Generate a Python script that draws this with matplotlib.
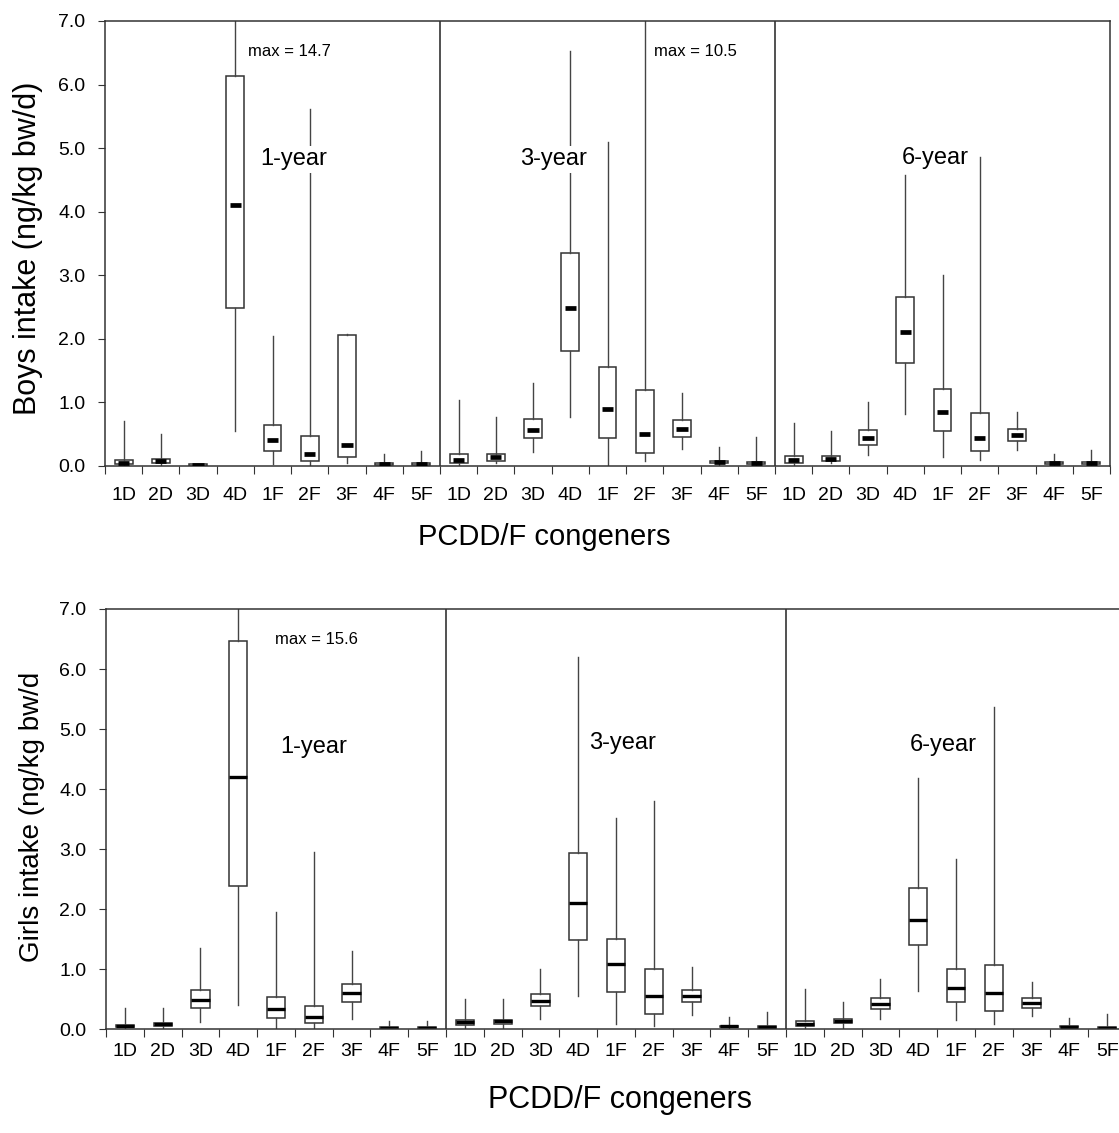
import matplotlib
matplotlib.use("Agg")
import matplotlib.pyplot as plt
from matplotlib.ticker import FormatStrFormatter
import numpy as np

plt.rcParams['font.family'] = ['Liberation Sans', 'DejaVu Sans']

congeners = ['1D', '2D', '3D', '4D', '1F', '2F', '3F', '4F', '5F']
ages = ['1-year', '3-year', '6-year']

# Boys: min, quartiles, median, max for 1-, 3- and 6-year olds (9 congeners each)
boys_min = [0.00, 0.00, 0.00, 0.54, 0.02, 0.00, 0.05, 0.00, 0.00,
            0.01, 0.04, 0.21, 0.77, 0.00, 0.07, 0.26, 0.00, 0.00,
            0.00, 0.05, 0.17, 0.81, 0.13, 0.09, 0.24, 0.00, 0.00]
boys_q1 = [0.02, 0.04, 0.00, 2.48, 0.23, 0.08, 0.14, 0.01, 0.01,
           0.04, 0.08, 0.43, 1.81, 0.43, 0.20, 0.45, 0.04, 0.02,
           0.04, 0.08, 0.32, 1.61, 0.54, 0.23, 0.39, 0.03, 0.02]
boys_med = [0.05, 0.07, 0.01, 4.11, 0.40, 0.19, 0.33, 0.03, 0.03,
            0.09, 0.13, 0.56, 2.48, 0.89, 0.50, 0.58, 0.06, 0.04,
            0.09, 0.11, 0.44, 2.10, 0.84, 0.44, 0.48, 0.05, 0.04]
boys_q3 = [0.09, 0.10, 0.02, 6.13, 0.64, 0.47, 2.06, 0.04, 0.04,
           0.18, 0.19, 0.74, 3.35, 1.55, 1.19, 0.72, 0.08, 0.06,
           0.15, 0.16, 0.56, 2.65, 1.20, 0.83, 0.58, 0.06, 0.06]
boys_max = [0.70, 0.50, 0.03, 14.7, 2.04, 5.62, 2.07, 0.18, 0.23,
            1.03, 0.76, 1.30, 6.53, 5.10, 10.5, 1.14, 0.30, 0.45,
            0.67, 0.54, 1.01, 4.58, 3.00, 4.86, 0.85, 0.18, 0.25]

# Girls
girls_min = [0.00, 0.00, 0.12, 0.40, 0.00, 0.00, 0.17, 0.00, 0.00,
             0.01, 0.02, 0.17, 0.55, 0.08, 0.06, 0.24, 0.00, 0.00,
             0.00, 0.02, 0.17, 0.63, 0.16, 0.08, 0.22, 0.00, 0.00]
girls_q1 = [0.03, 0.06, 0.35, 2.38, 0.19, 0.10, 0.46, 0.01, 0.01,
            0.07, 0.09, 0.38, 1.49, 0.62, 0.25, 0.46, 0.03, 0.02,
            0.05, 0.10, 0.34, 1.40, 0.46, 0.30, 0.36, 0.03, 0.01]
girls_med = [0.05, 0.08, 0.49, 4.20, 0.33, 0.21, 0.60, 0.02, 0.02,
             0.12, 0.13, 0.47, 2.10, 1.08, 0.55, 0.55, 0.05, 0.04,
             0.08, 0.13, 0.42, 1.82, 0.68, 0.60, 0.44, 0.04, 0.02]
girls_q3 = [0.07, 0.10, 0.65, 6.46, 0.54, 0.38, 0.75, 0.03, 0.03,
            0.16, 0.16, 0.59, 2.93, 1.51, 1.00, 0.65, 0.06, 0.05,
            0.13, 0.17, 0.52, 2.35, 1.00, 1.07, 0.52, 0.05, 0.03]
girls_max = [0.36, 0.36, 1.35, 15.6, 1.96, 2.95, 1.30, 0.14, 0.14,
             0.50, 0.50, 1.01, 6.20, 3.52, 3.81, 1.03, 0.20, 0.28,
             0.67, 0.45, 0.84, 4.18, 2.84, 5.37, 0.79, 0.19, 0.26]

EDGE = '#333333'


def draw_panel(ax, lo, q1, med, q3, hi, short_median):
    pos = np.arange(len(med)) + 0.5
    stats = [dict(whislo=a, q1=b, med=c, q3=d, whishi=e, fliers=[])
             for a, b, c, d, e in zip(lo, q1, med, q3, hi)]
    ax.bxp(stats, positions=pos, widths=0.48, showcaps=False, patch_artist=True,
           boxprops=dict(facecolor='white', edgecolor=EDGE, linewidth=1.1),
           whiskerprops=dict(color='#444444', linewidth=1.0),
           medianprops=dict(color='black', linewidth=0 if short_median else 2.4))
    if short_median:
        # short, heavy median bars inside the boxes
        ax.hlines(med, pos - 0.15, pos + 0.15, colors='black', linewidth=3.4, zorder=4)

    for x in (9, 18):
        ax.axvline(x, color=EDGE, linewidth=1.2)

    ax.set_xlim(0, 27)
    ax.set_ylim(0, 7)
    ax.set_xticks(np.arange(28))
    ax.set_xticklabels([])
    ax.set_xticks(pos, minor=True)
    ax.set_xticklabels(congeners * 3, minor=True)
    ax.tick_params(axis='x', which='major', direction='out', length=6, color=EDGE)
    ax.tick_params(axis='x', which='minor', length=0, labelsize=14)
    ax.set_yticks(np.arange(0, 7.5, 1.0))
    ax.yaxis.set_major_formatter(FormatStrFormatter('%.1f'))
    ax.tick_params(axis='y', direction='out', length=5, color=EDGE, labelsize=14, pad=9)
    for s in ax.spines.values():
        s.set_color(EDGE)
        s.set_linewidth(1.1)


fig = plt.figure(figsize=(11.19, 11.33), dpi=100)
W, H = 1119, 1133

ax1 = fig.add_axes([105 / W, 1 - 465.7 / H, 1005 / W, 444.7 / H])
draw_panel(ax1, boys_min, boys_q1, boys_med, boys_q3, boys_max, True)
ax1.tick_params(axis='x', which='minor', pad=15)

ax2 = fig.add_axes([106 / W, 1 - 1029.3 / H, 1020 / W, 420.3 / H])
draw_panel(ax2, girls_min, girls_q1, girls_med, girls_q3, girls_max, False)
ax2.tick_params(axis='x', which='minor', pad=10)

box_bg = dict(facecolor='white', edgecolor='none', pad=1.5)
for x, y, age in zip([5.08, 12.06, 22.3], [4.82, 4.82, 4.85], ages):
    ax1.text(x, y, age, ha='center', va='center', fontsize=17, bbox=box_bg)
for x, y, age in zip([5.5, 13.66, 22.15], [4.70, 4.76, 4.74], ages):
    ax2.text(x, y, age, ha='center', va='center', fontsize=17, bbox=box_bg)

ax1.text(3.84, 6.52, f'max = {boys_max[3]:.1f}', ha='left', va='center', fontsize=12)
ax1.text(14.75, 6.52, f'max = {boys_max[14]:.1f}', ha='left', va='center', fontsize=12)
ax2.text(4.47, 6.49, f'max = {girls_max[3]:.1f}', ha='left', va='center', fontsize=12)

fig.text(28 / W, 1 - 248 / H, 'Boys intake (ng/kg bw/d)', rotation=90,
         ha='center', va='center', fontsize=22)
fig.text(32 / W, 1 - 817 / H, 'Girls intake (ng/kg bw/d', rotation=90,
         ha='center', va='center', fontsize=20)
fig.text(544 / W, 1 - 537 / H, 'PCDD/F congeners', ha='center', va='center', fontsize=21)
fig.text(620 / W, 1 - 1100 / H, 'PCDD/F congeners', ha='center', va='center', fontsize=22)

fig.savefig('out.png', dpi=100)
